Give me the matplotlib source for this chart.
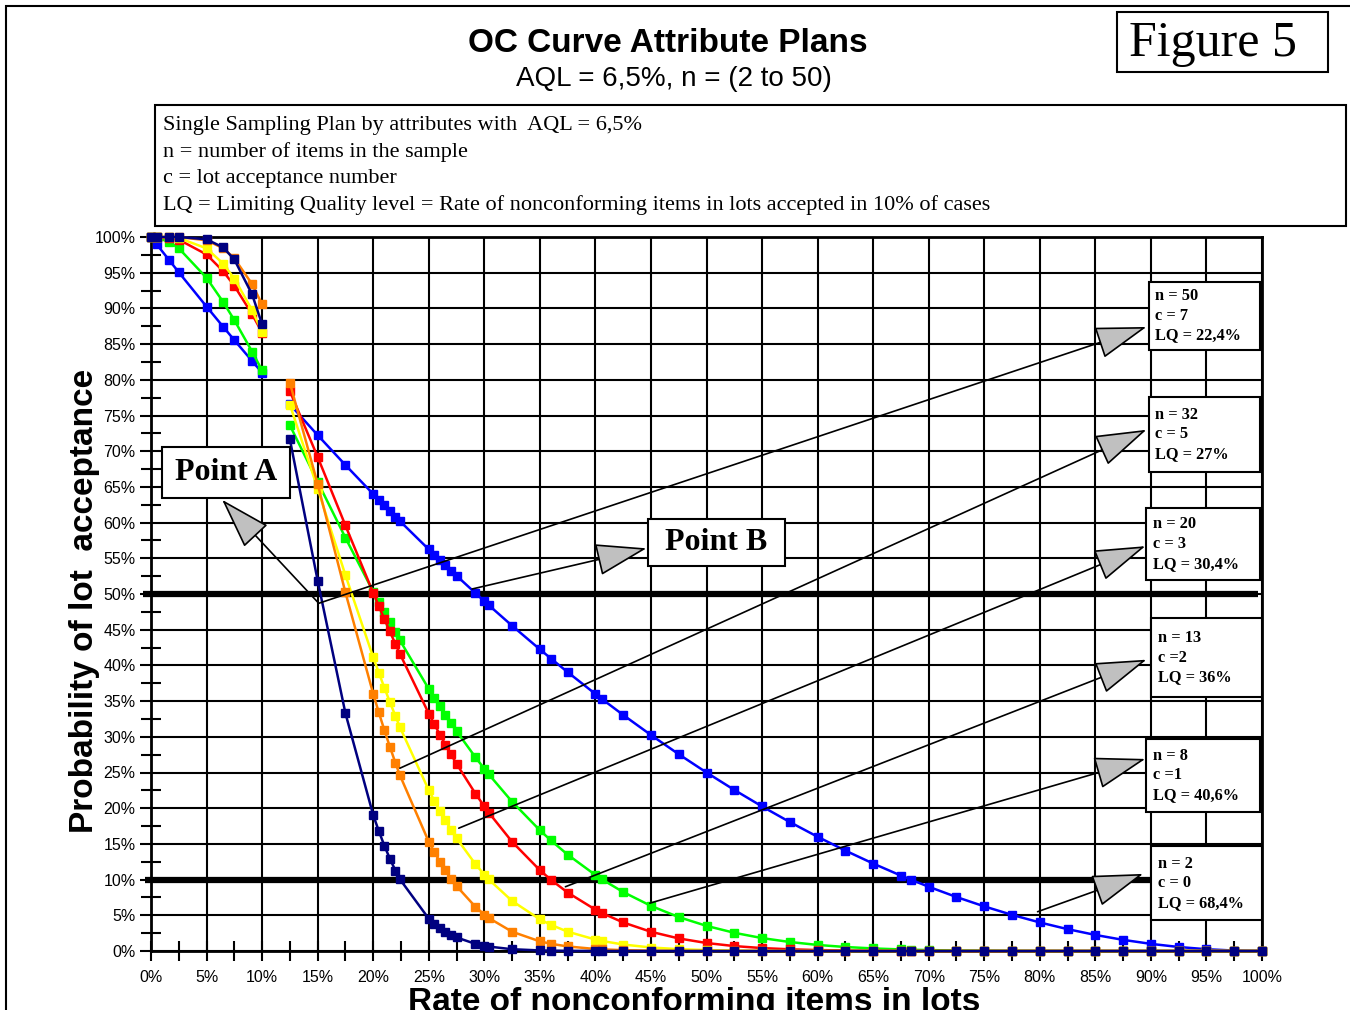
import matplotlib
matplotlib.use("Agg")
import matplotlib.pyplot as plt
from matplotlib.patches import Rectangle
import numpy as np

SANS = "Liberation Sans"
SERIF = "Liberation Serif"

# rate of nonconforming items (%), first part of the curves
p_a = [0, 0.5, 1.65, 2.5, 5, 6.5, 7.5, 9.1, 10]
# second part of the curves
p_b = [12.5, 15, 17.5, 20, 20.5, 21, 21.5, 22, 22.4, 25, 25.5, 26, 26.5, 27, 27.5,
       29.2, 30, 30.4, 32.5, 35, 36, 37.5, 40, 40.6, 42.5, 45, 47.5, 50, 52.5, 55,
       57.5, 60, 62.5, 65, 67.5, 68.4, 70, 72.5, 75, 77.5, 80, 82.5, 85, 87.5, 90,
       92.5, 95, 97.5, 100]

# probability of acceptance (%)
n2_a = [100, 99.0, 96.73, 95.06, 90.25, 87.42, 85.56, 82.63, 81.0]
n2_b = [76.56, 72.25, 68.06, 64.0, 63.2, 62.41, 61.62, 60.84, 60.22, 56.25, 55.5,
        54.76, 54.02, 53.29, 52.56, 50.13, 49.0, 48.44, 45.56, 42.25, 40.96, 39.06,
        36.0, 35.28, 33.06, 30.25, 27.56, 25.0, 22.56, 20.25, 18.06, 16.0, 14.06,
        12.25, 10.56, 9.99, 9.0, 7.56, 6.25, 5.06, 4.0, 3.06, 2.25, 1.56, 1.0, 0.56,
        0.25, 0.06, 0.0]

n8_a = [100, 99.93, 99.29, 98.42, 94.28, 90.89, 88.36, 83.95, 81.31]
n8_b = [73.63, 65.72, 57.88, 50.33, 48.87, 47.43, 46.01, 44.62, 43.52, 36.71, 35.47,
        34.27, 33.08, 31.93, 30.79, 27.14, 25.53, 24.75, 20.91, 16.91, 15.48, 13.5,
        10.64, 10.02, 8.26, 6.32, 4.75, 3.52, 2.55, 1.81, 1.26, 0.85, 0.56, 0.36,
        0.22, 0.18, 0.13, 0.07, 0.04, 0.02, 0.01, 0, 0, 0, 0, 0, 0, 0, 0]

n13_a = [100, 100.0, 99.89, 99.63, 97.55, 95.2, 93.16, 89.19, 86.61]
n13_b = [78.41, 69.2, 59.6, 50.16, 48.33, 46.52, 44.75, 43.0, 41.63, 33.26, 31.76,
         30.31, 28.9, 27.54, 26.22, 22.05, 20.25, 19.39, 15.3, 11.32, 9.97, 8.19,
         5.79, 5.31, 4.0, 2.69, 1.76, 1.12, 0.69, 0.41, 0.24, 0.13, 0.07, 0.03, 0.02,
         0.01, 0.01, 0, 0, 0, 0, 0, 0, 0, 0, 0, 0, 0, 0]

n20_a = [100, 100.0, 99.97, 99.86, 98.41, 96.26, 94.18, 89.76, 86.7]
n20_b = [76.53, 64.77, 52.64, 41.14, 39.0, 36.9, 34.87, 32.91, 31.37, 22.52, 21.04,
         19.62, 18.28, 17.01, 15.8, 12.17, 10.71, 10.03, 7.01, 4.44, 3.66, 2.71, 1.6,
         1.4, 0.91, 0.49, 0.26, 0.13, 0.06, 0.03, 0.01, 0.01, 0, 0, 0, 0, 0, 0, 0, 0,
         0, 0, 0, 0, 0, 0, 0, 0, 0]

n32_a = [100, 100.0, 99.99, 99.99, 99.54, 98.42, 97.01, 93.4, 90.56]
n32_b = [79.59, 65.41, 50.22, 36.02, 33.43, 30.96, 28.6, 26.35, 24.63, 15.3, 13.86,
         12.52, 11.29, 10.15, 9.1, 6.19, 5.1, 4.63, 2.7, 1.35, 1.01, 0.64, 0.28, 0.23,
         0.12, 0.05, 0.02, 0.01, 0, 0, 0, 0, 0, 0, 0, 0, 0, 0, 0, 0, 0, 0, 0, 0, 0, 0,
         0, 0, 0]

n50_a = [100, 100.0, 100.0, 100.0, 99.68, 98.53, 96.85, 91.96, 87.78]
n50_b = [71.66, 51.88, 33.3, 19.04, 16.82, 14.77, 12.93, 11.26, 10.06, 4.53, 3.84,
         3.24, 2.72, 2.28, 1.9, 1.0, 0.73, 0.62, 0.25, 0.08, 0.05, 0.02, 0.01, 0, 0,
         0, 0, 0, 0, 0, 0, 0, 0, 0, 0, 0, 0, 0, 0, 0, 0, 0, 0, 0, 0, 0, 0, 0, 0]

plans = ["n = 2\nc = 0\nLQ = 68,4%", "n = 8\nc =1\nLQ = 40,6%", "n = 13\nc =2\nLQ = 36%",
         "n = 20\nc = 3\nLQ = 30,4%", "n = 32\nc = 5\nLQ = 27%", "n = 50\nc = 7\nLQ = 22,4%"]
colors = ["#0000ff", "#00ff00", "#ff0000", "#ffff00", "#ff8000", "#000080"]
curves_a = [n2_a, n8_a, n13_a, n20_a, n32_a, n50_a]
curves_b = [n2_b, n8_b, n13_b, n20_b, n32_b, n50_b]

# label boxes: (left, bottom, right, top) and arrow (start on curve, tip at box)
label_boxes = [(90.0, 4.3, 100, 14.7), (89.6, 19.5, 99.8, 29.7), (90.0, 35.6, 100, 46.6),
               (89.6, 52.0, 99.8, 62.0), (89.8, 67.1, 99.8, 77.6), (89.8, 84.2, 99.8, 93.7)]
label_arrows = [((79.8, 5.5), (89.3, 10.8)), ((44.9, 6.7), (89.5, 26.9)),
                ((37.3, 9.0), (89.6, 40.8)), ((27.7, 17.2), (89.5, 56.7)),
                ((22.4, 25.6), (89.6, 73.0)), ((15.1, 48.7), (89.6, 87.4))]

W, H = 1350, 1010


def fx(px):
    return px / W


def fy(py):
    return 1 - py / H


fig = plt.figure(figsize=(13.5, 10.1), dpi=100)
ax = fig.add_axes([fx(151), fy(951), (1262 - 151) / W, (951 - 237) / H])

ax.set_xlim(0, 100)
ax.set_ylim(0, 100)
ticks = np.arange(0, 101, 5)
ax.set_xticks(ticks)
ax.set_yticks(ticks)
ax.set_xticklabels([f"{t}%" for t in ticks], family=SANS, fontsize=11.5)
ax.set_yticklabels([f"{t}%" for t in ticks], family=SANS, fontsize=11.5)
ax.set_xticks(np.arange(2.5, 100, 5), minor=True)
ax.set_yticks(np.arange(2.5, 100, 5), minor=True)
ax.tick_params(axis="x", which="both", direction="inout", length=14, width=1.5, pad=7)
ax.tick_params(axis="y", which="major", direction="out", length=8, width=1.5, pad=3)
ax.tick_params(axis="y", which="minor", direction="inout", length=14, width=1.5)
ax.set_axisbelow(True)
ax.grid(True, which="major", color="black", lw=1.5)
for s in ax.spines.values():
    s.set_linewidth(2)

# thick reference lines at 50% and 10%
ax.plot([-0.7, 99.6], [50, 50], color="black", lw=4.5, clip_on=False, zorder=2,
        solid_capstyle="butt")
ax.plot([-0.5, 90], [10, 10], color="black", lw=4.5, clip_on=False, zorder=2,
        solid_capstyle="butt")

for ya, yb, c in zip(curves_a, curves_b, colors):
    for xs, ys in ((p_a, ya), (p_b, yb)):
        ax.plot(xs, ys, color=c, lw=1.8, marker="s", ms=5.5, mec=c, mfc=c,
                clip_on=False, zorder=3)

arrow_style = "-|>,head_length=3.3,head_width=1.05"


def callout(start, tip):
    ax.annotate("", xy=tip, xytext=start,
                arrowprops=dict(arrowstyle=arrow_style, mutation_scale=10,
                                fc="#c0c0c0", ec="black", lw=1.2,
                                shrinkA=0, shrinkB=0), zorder=4)


for (l, b, r, t), text, (start, tip) in zip(label_boxes, plans, label_arrows):
    callout(start, tip)
    ax.add_patch(Rectangle((l, b), r - l, t - b, fc="white", ec="black", lw=1.5, zorder=5))
    ax.text(l + 0.6, (b + t) / 2, text, ha="left", va="center", family=SERIF,
            weight="bold", fontsize=11.8, linespacing=1.3, zorder=6)

# Point A / Point B
callout((15.1, 48.7), (6.4, 63.2))
callout((28.9, 50.7), (44.6, 56.4))
for (l, b, r, t), text in (((1.0, 63.45, 12.5, 70.6), "Point A"),
                           ((44.7, 53.9, 57.1, 60.5), "Point B")):
    ax.add_patch(Rectangle((l, b), r - l, t - b, fc="white", ec="black", lw=1.5, zorder=5))
    ax.text((l + r) / 2, (b + t) / 2, text, ha="center", va="center", family=SERIF,
            weight="bold", fontsize=23, zorder=6)

# titles and framing
fig.text(fx(668), fy(43), "OC Curve Attribute Plans", ha="center", va="center",
         family=SANS, weight="bold", fontsize=24)
fig.text(fx(674), fy(79), "AQL = 6,5%, n = (2 to 50)", ha="center", va="center",
         family=SANS, fontsize=20)
fig.add_artist(Rectangle((fx(1117), fy(72)), (1328 - 1117) / W, 60 / H,
                         transform=fig.transFigure, fill=False, ec="black", lw=1.5))
fig.text(fx(1213), fy(44), "Figure 5", ha="center", va="center", family=SERIF,
         fontsize=36)

fig.add_artist(Rectangle((fx(155), fy(226)), (1346 - 155) / W, (226 - 105) / H,
                         transform=fig.transFigure, fill=False, ec="black", lw=1.5))
info = ["Single Sampling Plan by attributes with  AQL = 6,5%",
        "n = number of items in the sample",
        "c = lot acceptance number",
        "LQ = Limiting Quality level = Rate of nonconforming items in lots accepted in 10% of cases"]
for i, line in enumerate(info):
    fig.text(fx(163), fy(125.5 + 26.6 * i), line, ha="left", va="center", family=SERIF,
             fontsize=16)

fig.add_artist(Rectangle((fx(6), fy(1030)), (1400 - 6) / W, (1030 - 6) / H,
                         transform=fig.transFigure, fill=False, ec="black", lw=1.5))

fig.text(fx(85), fy(601), "Probability of lot  acceptance", rotation=90, ha="center",
         va="center", family=SANS, weight="bold", fontsize=24)
fig.text(fx(694), fy(987), "Rate of nonconforming items in lots", ha="center", va="top",
         family=SANS, weight="bold", fontsize=24)

fig.savefig("out.png", dpi=100)
